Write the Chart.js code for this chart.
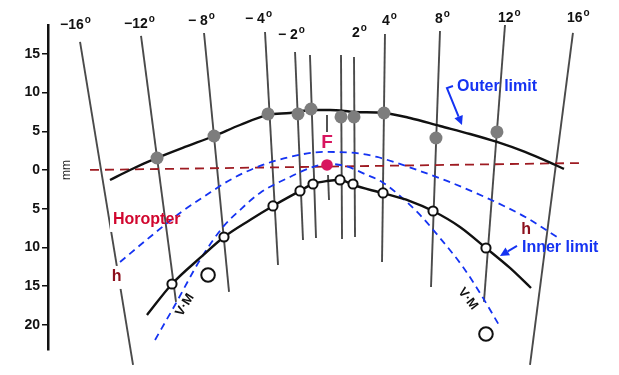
<!DOCTYPE html>
<html><head><meta charset="utf-8">
<script src="https://cdn.jsdelivr.net/npm/chart.js@4.4.1/dist/chart.umd.min.js"></script>
<style>html,body{margin:0;padding:0;background:#fff;}#wrap{width:619px;height:375px;position:relative;}</style>
</head><body><div id="wrap"><canvas id="c" width="619" height="375"></canvas></div>
<script>
// ---- data (all in mm; x = lateral, y = depth relative to fixation) ----
const yTickValues = [-20, -15, -10, -5, 0, 5, 10, 15];

// direction lines (visual angle in degrees) : top and bottom end points
const angleNames   = ['-16', '-12', '-8', '-4', '-2', '-1', '1', '2', '4', '8', '12', '16'];
const angleTopX    = [-31.91, -24.03, -15.89, -8.01, -4.13, -2.20, 1.81, 3.49, 7.49, 14.60, 23.00, 31.78];
const angleTopY    = [16.54, 17.31, 17.70, 17.83, 15.25, 14.86, 14.86, 14.60, 17.57, 17.96, 18.73, 17.70];
const angleBottomX = [-25.06, -19.51, -12.66, -6.33, -3.10, -1.42, 1.94, 3.62, 7.11, 13.44, 20.28, 26.23];
const angleBottomY = [-25.19, -17.05, -15.76, -12.27, -9.04, -8.79, -8.91, -8.66, -11.89, -15.12, -17.05, -25.19];
const fixLineUpperX = [0, 0];
const fixLineUpperY = [7.11, 4.91];
const fixLineLowerX = [0.13, 0.26];
const fixLineLowerY = [-0.65, -3.88];

// outer limit (measured points and fitted curve)
const outerPtsX = [-21.96, -14.60, -7.62, -3.75, -2.07, 1.81, 3.49, 7.36, 14.08, 21.96];
const outerPtsY = [1.55, 4.39, 7.24, 7.24, 7.88, 6.85, 6.85, 7.36, 4.13, 4.91];
const outerCurveX = [-28.04, -25.45, -21.96, -18.35, -14.60, -11.24, -7.62, -4.78, -2.07, 0.39, 3.62, 7.36, 10.72, 14.60, 18.48, 21.96, 25.58, 29.20, 30.62];
const outerCurveY = [-1.29, 0.00, 1.55, 2.97, 4.39, 5.81, 7.11, 7.36, 7.75, 7.75, 7.49, 7.36, 6.72, 5.68, 4.65, 3.62, 2.33, 0.78, 0.13];

// inner limit (measured points and fitted curve)
const innerPtsX = [-20.03, -13.31, -6.98, -3.49, -1.81, 1.68, 3.36, 7.24, 13.70, 20.54];
const innerPtsY = [-14.73, -8.66, -4.65, -2.71, -1.81, -1.29, -1.81, -2.97, -5.30, -10.08];
const innerCurveX = [-23.26, -20.03, -16.41, -13.31, -9.95, -6.98, -3.49, -1.81, 0.00, 1.81, 3.36, 7.11, 10.72, 13.70, 17.18, 20.54, 23.64, 26.36];
const innerCurveY = [-18.73, -14.73, -11.37, -8.66, -6.46, -4.65, -2.71, -1.81, -1.42, -1.29, -1.94, -2.97, -4.01, -5.30, -7.36, -10.08, -12.66, -15.25];

// extra open circles
const bigCircleX = [-15.37, 20.54];
const bigCircleY = [-13.57, -21.19];

// fixation point F
const fixX = [0];
const fixY = [0.65];

// theoretical horopter (h) and Vieth-Müller circle (V.M)
const hCurveX = [-26.74, -22.87, -18.99, -15.76, -12.53, -8.66, -4.78, -0.52, 3.62, 6.46, 9.04, 12.02, 15.50, 20.67, 25.84, 29.72];
const hCurveY = [-11.89, -8.66, -5.56, -3.36, -1.29, 0.52, 1.68, 2.33, 2.20, 1.68, 0.90, -0.13, -1.42, -3.62, -6.20, -8.66];
const vmCurveX = [-22.22, -19.64, -16.41, -13.44, -11.24, -8.66, -4.78, -2.20, 0.00, 2.33, 5.17, 7.11, 9.43, 12.02, 14.60, 17.57, 19.77, 22.22];
const vmCurveY = [-21.96, -17.44, -11.63, -7.36, -5.17, -2.97, -0.90, 0.26, 0.78, 0.52, -0.65, -1.55, -3.36, -5.81, -8.79, -12.53, -15.89, -20.03];

// empirical horopter (dashed straight line)
const horopterX = [-30.62, 32.95];
const horopterY = [0.00, 0.90];

// ---- helpers ----
const zip = (xs, ys) => xs.map((x, i) => ({x: x, y: ys[i]}));
const FONT = '"Liberation Sans", Arial, sans-serif';

const datasets = [];
angleNames.forEach((n, i) => {
  datasets.push({
    label: 'a' + n,
    data: [{x: angleTopX[i], y: angleTopY[i]}, {x: angleBottomX[i], y: angleBottomY[i]}],
    showLine: true, pointRadius: 0, borderColor: '#4a4a4a', borderWidth: 1.9,
    order: n === '-16' ? 31 : 30, clip: false
  });
});
datasets.push({label: 'fixU', data: zip(fixLineUpperX, fixLineUpperY), showLine: true, pointRadius: 0, borderColor: '#4a4a4a', borderWidth: 1.9, order: 30, clip: false});
datasets.push({label: 'fixL', data: zip(fixLineLowerX, fixLineLowerY), showLine: true, pointRadius: 0, borderColor: '#4a4a4a', borderWidth: 1.9, order: 30, clip: false});
datasets.push({label: 'horopter', data: zip(horopterX, horopterY), showLine: true, pointRadius: 0, borderColor: '#9e1b22', borderWidth: 1.8, borderDash: [9, 6], order: 20, clip: false});
datasets.push({label: 'h', data: zip(hCurveX, hCurveY), showLine: true, pointRadius: 0, borderColor: '#1533f2', borderWidth: 1.8, borderDash: [7, 5], cubicInterpolationMode: 'monotone', order: 18, clip: false});
datasets.push({label: 'vm', data: zip(vmCurveX, vmCurveY), showLine: true, pointRadius: 0, borderColor: '#1533f2', borderWidth: 1.8, borderDash: [7, 5], cubicInterpolationMode: 'monotone', order: 18, clip: false});
datasets.push({label: 'outer', data: zip(outerCurveX, outerCurveY), showLine: true, pointRadius: 0, borderColor: '#111', borderWidth: 2.4, cubicInterpolationMode: 'monotone', order: 15, clip: false});
datasets.push({label: 'inner', data: zip(innerCurveX, innerCurveY), showLine: true, pointRadius: 0, borderColor: '#111', borderWidth: 2.4, cubicInterpolationMode: 'monotone', order: 15, clip: false});
datasets.push({label: 'outerPts', data: zip(outerPtsX, outerPtsY), showLine: false, pointRadius: 6.5, backgroundColor: '#7d7d7d', borderColor: '#7d7d7d', borderWidth: 0, order: 5, clip: false});
datasets.push({label: 'innerPts', data: zip(innerPtsX, innerPtsY), showLine: false, pointRadius: 4.6, backgroundColor: '#fff', borderColor: '#111', borderWidth: 2, order: 5, clip: false});
datasets.push({label: 'big', data: zip(bigCircleX, bigCircleY), showLine: false, pointRadius: 6.8, backgroundColor: '#fff', borderColor: '#111', borderWidth: 2, order: 5, clip: false});
datasets.push({label: 'F', data: zip(fixX, fixY), showLine: false, pointRadius: 5.8, backgroundColor: '#d8155f', borderColor: '#d8155f', borderWidth: 0, order: 4, clip: false});

// ---- text annotations (positions in data units) ----
const topLabels = [
  {t: '\u221216', x: -34.50, y: 18.22}, {t: '\u221212', x: -26.23, y: 18.35},
  {t: '\u2212 8', x: -17.96, y: 18.73}, {t: '\u2212 4', x: -10.59, y: 18.99},
  {t: '\u2212 2', x: -6.33, y: 16.93}, {t: '2', x: 3.23, y: 17.18},
  {t: '4', x: 7.11, y: 18.73}, {t: '8', x: 13.95, y: 18.99},
  {t: '12', x: 22.09, y: 19.12}, {t: '16', x: 31.01, y: 19.12}
];
const textLabels = [
  {t: 'Outer limit', x: 16.80, y: 10.72, color: '#1533f2', font: 'bold 16px ' + FONT},
  {t: 'Inner limit', x: 25.19, y: -10.08, color: '#1533f2', font: 'bold 16px ' + FONT},
  {t: 'Horopter', x: -27.65, y: -6.46, color: '#d1062e', font: 'bold 16px ' + FONT, gap: true},
  {t: 'h', x: -27.80, y: -13.82, color: '#8c0f1c', font: 'bold 16px ' + FONT, gap: true},
  {t: 'h', x: 25.10, y: -7.75, color: '#8c0f1c', font: 'bold 16px ' + FONT}
];
const arrows = [
  {pts: [[16.28, 10.85], [15.50, 10.59], [17.44, 5.81]]},
  {pts: [[24.55, -9.82], [22.35, -11.11]]}
];

const px = (c, v) => c.scales.x.getPixelForValue(v);
const py = (c, v) => c.scales.y.getPixelForValue(v);

const annot = {
  id: 'annot',
  afterDatasetDraw(chart, args) {
    if (args.meta.label !== 'a-16') return;
    const ctx = chart.ctx;
    ctx.save();
    ctx.fillStyle = '#fff';
    textLabels.filter(l => l.gap).forEach(l => {
      ctx.font = l.font;
      const w = ctx.measureText(l.t).width;
      ctx.fillRect(px(chart, l.x) - 3, py(chart, l.y) - 11, w + 4, 23);
    });
    ctx.restore();
  },
  afterDatasetsDraw(chart) {
    const ctx = chart.ctx;
    ctx.save();
    // top angle labels with superscript degree
    ctx.fillStyle = '#111';
    ctx.textAlign = 'left';
    ctx.textBaseline = 'alphabetic';
    topLabels.forEach(l => {
      const x = px(chart, l.x), y = py(chart, l.y);
      ctx.font = 'bold 14px ' + FONT;
      ctx.fillText(l.t, x, y);
      const w = ctx.measureText(l.t).width;
      ctx.font = 'bold 10px ' + FONT;
      ctx.fillText('o', x + w + 1, y - 6);
    });
    // text labels
    textLabels.forEach(l => {
      ctx.font = l.font;
      ctx.fillStyle = l.color;
      ctx.textBaseline = 'middle';
      ctx.fillText(l.t, px(chart, l.x), py(chart, l.y));
    });
    // F label
    ctx.font = 'bold 19px ' + FONT;
    ctx.fillStyle = '#d8155f';
    ctx.textAlign = 'center';
    ctx.fillText('F', px(chart, 0), py(chart, 3.49));
    // V.M labels rotated
    ctx.fillStyle = '#111';
    ctx.font = 'bold 13px ' + FONT;
    [[-18.35, -17.44, -58], [18.22, -16.67, 52]].forEach(([x, y, a]) => {
      ctx.save();
      ctx.translate(px(chart, x), py(chart, y));
      ctx.rotate(a * Math.PI / 180);
      ctx.fillText('V\u00B7M', 0, 0);
      ctx.restore();
    });
    // mm axis title
    ctx.save();
    ctx.translate(px(chart, -33.59), py(chart, 0));
    ctx.rotate(-Math.PI / 2);
    ctx.font = '12px ' + FONT;
    ctx.fillStyle = '#222';
    ctx.fillText('mm', 0, 0);
    ctx.restore();
    // arrows
    ctx.strokeStyle = '#1533f2';
    ctx.fillStyle = '#1533f2';
    ctx.lineWidth = 2;
    arrows.forEach(a => {
      const p = a.pts.map(q => [px(chart, q[0]), py(chart, q[1])]);
      const n = p.length;
      const ang = Math.atan2(p[n-1][1] - p[n-2][1], p[n-1][0] - p[n-2][0]);
      const L = 9, W = 4.5;
      const bx = p[n-1][0] - L * Math.cos(ang), by = p[n-1][1] - L * Math.sin(ang);
      ctx.beginPath();
      ctx.moveTo(p[0][0], p[0][1]);
      for (let i = 1; i < n - 1; i++) ctx.lineTo(p[i][0], p[i][1]);
      ctx.lineTo(bx, by);
      ctx.stroke();
      ctx.beginPath();
      ctx.moveTo(p[n-1][0], p[n-1][1]);
      ctx.lineTo(bx + W * Math.sin(ang), by - W * Math.cos(ang));
      ctx.lineTo(bx - W * Math.sin(ang), by + W * Math.cos(ang));
      ctx.closePath();
      ctx.fill();
    });
    ctx.restore();
  }
};

new Chart(document.getElementById('c'), {
  type: 'scatter',
  data: {datasets: datasets},
  options: {
    responsive: false, animation: false, devicePixelRatio: 1, events: [],
    layout: {padding: {top: 25, bottom: 25, left: 0, right: 0}, autoPadding: false},
    plugins: {legend: {display: false}, tooltip: {enabled: false}},
    scales: {
      x: {type: 'linear', display: false, min: -36.05, max: 37.73},
      y: {
        type: 'linear', min: -23.26, max: 18.73,
        afterFit: s => { s.width = 48; },
        afterBuildTicks: s => { s.ticks = yTickValues.map(v => ({value: v})); },
        ticks: {
          includeBounds: false, padding: 2, color: '#111',
          font: {family: FONT, size: 14, weight: 'bold'},
          callback: v => String(Math.abs(v))
        },
        grid: {drawOnChartArea: false, drawTicks: true, tickLength: 6, color: '#111', lineWidth: 1.5},
        border: {display: true, color: '#111', width: 2.5}
      }
    }
  },
  plugins: [annot]
});
</script>
</body></html>
